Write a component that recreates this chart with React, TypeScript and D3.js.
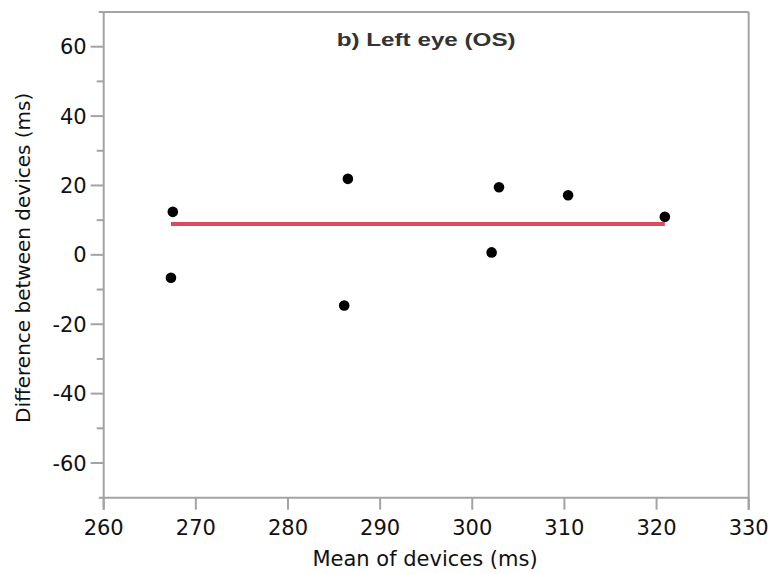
import React from "react";
import * as d3 from "d3";

const meanValues = [267.5, 267.3, 286.1, 286.5, 302.9, 310.4, 320.9, 302.1];
const diffValues = [12.4, -6.6, -14.6, 21.9, 19.5, 17.2, 11.0, 0.7];
const biasValue = 8.9;
const xTicks = [260, 270, 280, 290, 300, 310, 320, 330];
const yTicks = [-60, -40, -20, 0, 20, 40, 60];
const yMinorTicks = [-50, -30, -10, 10, 30, 50];
const title = "b) Left eye (OS)";
const xLabel = "Mean of devices (ms)";
const yLabel = "Difference between devices (ms)";

const W = 771;
const H = 574;
const left = 103.7;
const right = 748.7;
const top = 12;
const bottom = 497.7;

export default function App() {
  const x = d3.scaleLinear().domain([260, 330]).range([left, right]);
  const y = d3.scaleLinear().domain([-70, 70]).range([bottom, top]);
  const axisColor = "#a3a3a3";
  const font = "'DejaVu Sans', sans-serif";
  const [xMin, xMax] = d3.extent(meanValues) as [number, number];

  return (
    <svg width={W} height={H} style={{ position: "absolute", left: 0, top: 0, background: "#fff" }}>
      {/* frame */}
      <line x1={left - 5} x2={right} y1={top} y2={top} stroke={axisColor} strokeWidth={2} />
      <line x1={right} x2={right} y1={top} y2={bottom + 12} stroke={axisColor} strokeWidth={2} />
      <line x1={left} x2={left} y1={top} y2={bottom + 12} stroke={axisColor} strokeWidth={2} />
      <line x1={left - 5} x2={right} y1={bottom} y2={bottom} stroke={axisColor} strokeWidth={2} />

      {/* y ticks */}
      {yTicks.map((t) => (
        <g key={"y" + t}>
          <line x1={left - 13} x2={left} y1={y(t)} y2={y(t)} stroke={axisColor} strokeWidth={2} />
          <text x={left - 17} y={y(t)} dy="0.36em" textAnchor="end" fontFamily={font} fontSize={21} fill="#111">
            {t}
          </text>
        </g>
      ))}
      {yMinorTicks.map((t) => (
        <line key={"ym" + t} x1={left - 7} x2={left} y1={y(t)} y2={y(t)} stroke={axisColor} strokeWidth={2} />
      ))}

      {/* x ticks */}
      {xTicks.map((t) => (
        <g key={"x" + t}>
          <line x1={x(t)} x2={x(t)} y1={bottom} y2={bottom + 12} stroke={axisColor} strokeWidth={2} />
          <text x={x(t)} y={535} textAnchor="middle" fontFamily={font} fontSize={21} fill="#111">
            {t}
          </text>
        </g>
      ))}

      {/* axis labels */}
      <text x={425} y={566} textAnchor="middle" fontFamily={font} fontSize={21} fill="#111">
        {xLabel}
      </text>
      <text
        transform={`translate(30, ${(top + bottom) / 2 + 3}) rotate(-90)`}
        textAnchor="middle"
        fontFamily={font}
        fontSize={20}
        fill="#111"
      >
        {yLabel}
      </text>

      {/* title */}
      <text
        x={336.7}
        y={46}
        fontFamily="'Liberation Sans', Arial, sans-serif"
        fontWeight="bold"
        fontSize={19}
        fill="#333"
        textLength={179}
        lengthAdjust="spacingAndGlyphs"
      >
        {title}
      </text>

      {/* bias line */}
      <line x1={x(xMin)} x2={x(xMax)} y1={y(biasValue)} y2={y(biasValue)} stroke="#d94c5e" strokeWidth={4} />

      {/* points */}
      {meanValues.map((m, i) => (
        <circle key={i} cx={x(m)} cy={y(diffValues[i])} r={5.3} fill="#000" />
      ))}
    </svg>
  );
}
